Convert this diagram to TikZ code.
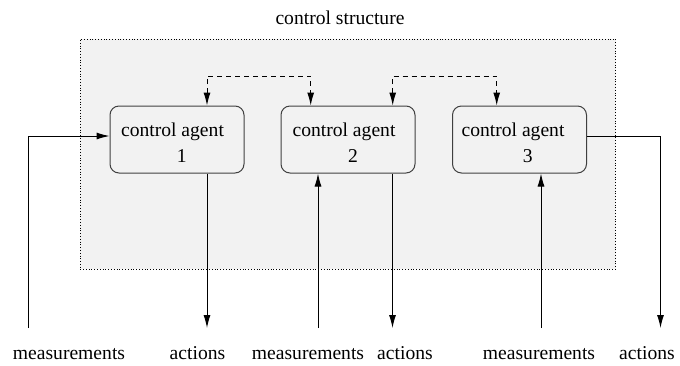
\documentclass[tikz,border=0pt]{standalone}
\usepackage{fontspec}
\setmainfont{Liberation Serif}
\usetikzlibrary{arrows.meta}
\begin{document}
\begin{tikzpicture}[x=1pt,y=-1pt,
  agent/.style={draw=black!75,line width=1pt,fill=black!5,rounded corners=9pt,minimum width=134pt,minimum height=67pt,inner sep=0pt},
  lbl/.style={inner sep=0pt,font=\fontsize{19.6}{24}\selectfont,anchor=base},
  conn/.style={line width=1pt,-{Latex[length=13pt,width=7pt]}},
  dconn/.style={line width=1pt,dash pattern=on 5pt off 4pt,{Latex[length=13pt,width=7pt]}-{Latex[length=13pt,width=7pt]}}]
\useasboundingbox (0,0) rectangle (680,365);
\node[draw,dotted,line width=0.8pt,fill=black!5,minimum width=535.5pt,minimum height=230pt,inner sep=0pt] (cs) at (348,154) {};
\node[lbl] (cst) at (340,24) {control structure};
\node[agent] (b1) at (177,139.5) {};
\node[agent] (b2) at (348,139.5) {};
\node[agent] (b3) at (519.5,139.5) {};
\node[lbl] (t1) at (172.5,136) {control agent};
\node[lbl] (n1) at (181.7,162) {1};
\node[lbl] (t2) at (344,136) {control agent};
\node[lbl] (n2) at (353,162) {2};
\node[lbl] (t3) at (513,136) {control agent};
\node[lbl] (n3) at (527.7,162) {3};
\node[lbl] (m1) at (69,359) {measurements};
\node[lbl] (a1) at (197.5,359) {actions};
\node[lbl] (m2) at (308,359) {measurements};
\node[lbl] (a2) at (405,359) {actions};
\node[lbl] (m3) at (539,359) {measurements};
\node[lbl] (a3) at (647,359) {actions};
% free ends
\coordinate (pm1) at (28,328);
\coordinate (pa1) at (207,328);
\coordinate (pm2) at (318,328);
\coordinate (pa2) at (392.5,328);
\coordinate (pm3) at (541,328);
\coordinate (pa3) at (660.5,328);
\coordinate (d1) at (207,76);
\coordinate (d2) at (310.7,76);
\coordinate (d3) at (392.7,76);
\coordinate (d4) at (496.7,76);
% connectors
\draw[conn] (pm1) |- (b1.west |- 0,136);
\draw[conn] (b1.south -| pa1) -- (pa1);
\draw[conn] (pm2) -- (b2.south -| pm2);
\draw[conn] (b2.south -| pa2) -- (pa2);
\draw[conn] (pm3) -- (b3.south -| pm3);
\draw[conn] (b3.east |- 0,136) -| (pa3);
\draw[dconn] (b1.north -| d1) -- (d1) -- (d2) -- (b2.north -| d2);
\draw[dconn] (b2.north -| d3) -- (d3) -- (d4) -- (b3.north -| d4);
\end{tikzpicture}
\end{document}
